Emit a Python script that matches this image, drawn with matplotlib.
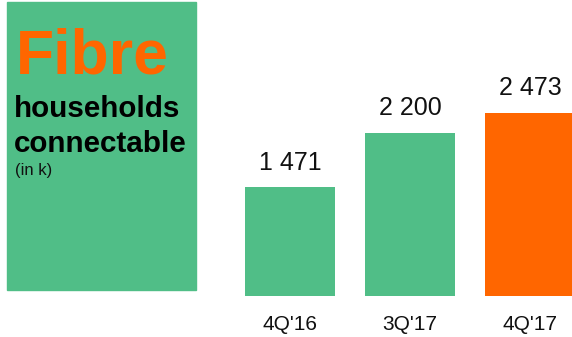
import matplotlib
matplotlib.use("Agg")
import matplotlib.pyplot as plt
from matplotlib.patches import Rectangle

categories = ["4Q'16", "3Q'17", "4Q'17"]
values = [1471, 2200, 2473]
value_labels = ["1 471", "2 200", "2 473"]

GREEN = "#50BE87"
ORANGE = "#FF6600"
W, H, DPI = 572, 337, 100
plt.rcParams["font.family"] = ["Liberation Sans", "DejaVu Sans"]

fig = plt.figure(figsize=(W / DPI, H / DPI), dpi=DPI)
px = lambda v: v * 72 / DPI  # pixels -> points

# title panel
fig.patches.append(Rectangle((7 / W, 1 - 290 / H), 189 / W, 288 / H,
                             transform=fig.transFigure, color=GREEN, zorder=0))
fig.text(16 / W, 1 - 73 / H, "Fibre", color=ORANGE, fontsize=45, fontweight="bold", va="baseline")
fig.text(14 / W, 1 - 117 / H, "households", color="black", fontsize=21.3, fontweight="bold", va="baseline")
fig.text(14 / W, 1 - 152 / H, "connectable", color="black", fontsize=21.3, fontweight="bold", va="baseline")
fig.text(15 / W, 1 - 175 / H, "(in k)", color="#111111", fontsize=12, va="baseline")

# bars
ax = fig.add_axes([230 / W, 41 / H, (W - 230) / W, 296 / H])
colors = [GREEN] * (len(values) - 1) + [ORANGE]
x = range(len(values))
ax.bar(x, values, width=0.75, color=colors)
ax.set_xlim(-0.5, 2.35)
ax.set_ylim(0, 3995)
ax.axis("off")
for i, (v, lab, cat) in enumerate(zip(values, value_labels, categories)):
    ax.annotate(lab, xy=(i, v), xytext=(0, px(17.5)), textcoords="offset points",
                ha="center", va="baseline", fontsize=18, color="#111111")
    ax.annotate(cat, xy=(i, 0), xytext=(0, -px(29)), textcoords="offset points",
                ha="center", va="center", fontsize=15, color="#111111", annotation_clip=False)

fig.savefig("out.png", dpi=DPI)
